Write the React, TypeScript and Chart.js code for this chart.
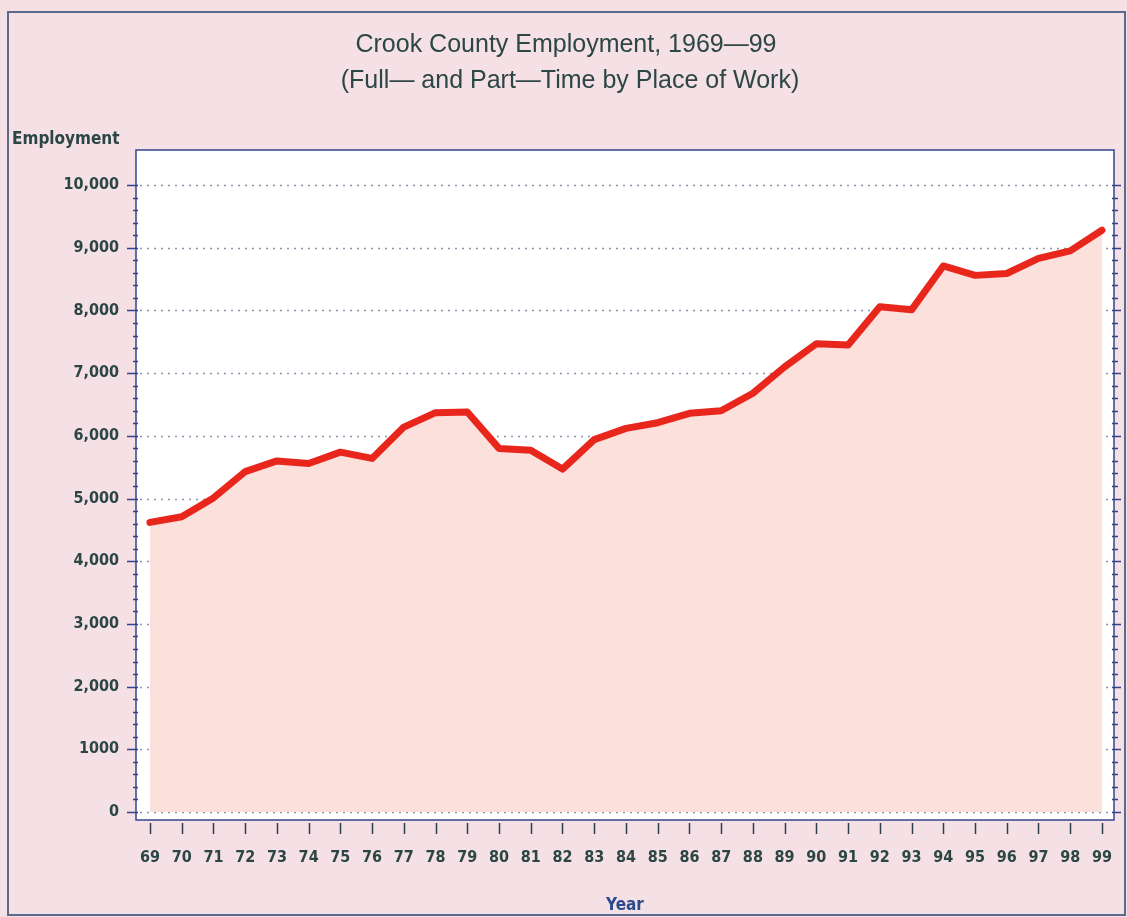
import React, { useEffect, useRef } from "react";
import { Chart, registerables } from "chart.js";

Chart.register(...registerables);

const titleLines = ["Crook County Employment, 1969\u201499", "(Full\u2014 and Part\u2014Time by Place of Work)"];
const yAxisTitle = "Employment";
const xAxisTitle = "Year";

const years = [
  1969, 1970, 1971, 1972, 1973, 1974, 1975, 1976, 1977, 1978, 1979,
  1980, 1981, 1982, 1983, 1984, 1985, 1986, 1987, 1988, 1989,
  1990, 1991, 1992, 1993, 1994, 1995, 1996, 1997, 1998, 1999,
];
const employment = [
  4620, 4710, 5010, 5430, 5600, 5560, 5740, 5640, 6140, 6370, 6380,
  5800, 5770, 5470, 5940, 6120, 6210, 6360, 6400, 6680, 7100,
  7470, 7450, 8060, 8010, 8710, 8560, 8590, 8830, 8950, 9280,
];
const yTickValues = [0, 1000, 2000, 3000, 4000, 5000, 6000, 7000, 8000, 9000, 10000];
const yTickLabels = ["0", "1000", "2,000", "3,000", "4,000", "5,000", "6,000", "7,000", "8,000", "9,000", "10,000"];
const yMinorStep = 200;

const TICK_FONT = "'Liberation Sans Narrow', 'DejaVu Sans Condensed', 'Arial Narrow', sans-serif";
const TEXT_COLOR = "#2c4646";
const AXIS_COLOR = "#34448c";

const decorPlugin = {
  id: "decor",
  beforeDraw(chart: any) {
    const { ctx, chartArea: a, width, height } = chart;
    ctx.save();
    ctx.fillStyle = "#f4e0e5";
    ctx.fillRect(0, 0, width, height);
    ctx.fillStyle = "#ffffff";
    ctx.fillRect(a.left, a.top, a.right - a.left, a.bottom - a.top);
    ctx.strokeStyle = "#5b6a8c";
    ctx.lineWidth = 2;
    ctx.strokeRect(8, 12, width - 10, height - 14);
    ctx.restore();
  },
  beforeDatasetsDraw(chart: any) {
    const { ctx, chartArea: a } = chart;
    const ys = chart.scales.y;
    ctx.save();
    ctx.strokeStyle = "#8e93ad";
    ctx.lineWidth = 1.5;
    ctx.setLineDash([2, 5]);
    yTickValues.forEach((v) => {
      const py = Math.round(ys.getPixelForValue(v)) + 0.5;
      ctx.beginPath();
      ctx.moveTo(a.left + 4, py);
      ctx.lineTo(a.right - 4, py);
      ctx.stroke();
    });
    ctx.restore();
  },
  afterDraw(chart: any) {
    const { ctx, chartArea: a } = chart;
    const ys = chart.scales.y;
    const xs = chart.scales.x;
    ctx.save();
    ctx.strokeStyle = AXIS_COLOR;
    ctx.lineWidth = 1.5;
    ctx.strokeRect(a.left, a.top, a.right - a.left, a.bottom - a.top);
    for (let v = 0; v <= yTickValues[yTickValues.length - 1]; v += yMinorStep) {
      const major = v % 1000 === 0;
      const py = Math.round(ys.getPixelForValue(v)) + 0.5;
      ctx.beginPath();
      ctx.moveTo(a.left - (major ? 9 : 3), py);
      ctx.lineTo(a.left + 2, py);
      ctx.moveTo(a.right - 2, py);
      ctx.lineTo(a.right + (major ? 7 : 4), py);
      ctx.stroke();
    }
    ctx.strokeStyle = "#2c3e48";
    years.forEach((yr) => {
      const px = Math.round(xs.getPixelForValue(yr)) + 0.5;
      ctx.beginPath();
      ctx.moveTo(px, a.bottom + 3);
      ctx.lineTo(px, a.bottom + 14);
      ctx.stroke();
    });
    ctx.fillStyle = TEXT_COLOR;
    ctx.textAlign = "center";
    ctx.textBaseline = "middle";
    ctx.font = "25px 'Liberation Sans', Arial, sans-serif";
    ctx.fillText(titleLines[0], 566, 45);
    ctx.fillText(titleLines[1], 570, 81);
    ctx.textAlign = "left";
    ctx.font = "bold 17px " + TICK_FONT;
    ctx.fillText(yAxisTitle, 12, 140);
    ctx.textAlign = "center";
    ctx.fillStyle = "#2b4a8e";
    ctx.fillText(xAxisTitle, (a.left + a.right) / 2, 906);
    ctx.restore();
  },
};

export default function App() {
  const ref = useRef<HTMLCanvasElement | null>(null);
  useEffect(() => {
    if (!ref.current) return;
    const chart = new Chart(ref.current, {
      type: "line",
      data: {
        datasets: [
          {
            data: years.map((yr, i) => ({ x: yr, y: employment[i] })),
            borderColor: "#e8261c",
            borderWidth: 7,
            backgroundColor: "#fbe0dc",
            fill: "origin",
            pointRadius: 0,
            tension: 0,
            borderJoinStyle: "round",
            borderCapStyle: "round",
          },
        ],
      },
      options: {
        animation: false,
        responsive: false,
        devicePixelRatio: 1,
        layout: { padding: { left: 0, top: 150, right: 13, bottom: 37 } },
        plugins: { legend: { display: false }, title: { display: false }, tooltip: { enabled: false } },
        scales: {
          x: {
            type: "linear",
            min: 1968.56,
            max: 1999.38,
            afterBuildTicks: (s: any) => {
              s.ticks = years.map((v) => ({ value: v }));
            },
            afterFit: (s: any) => {
              s.height = 60;
              s.paddingLeft = 0;
              s.paddingRight = 0;
            },
            grid: { display: false, drawTicks: false },
            border: { display: false },
            ticks: {
              autoSkip: false,
              maxRotation: 0,
              padding: 28,
              color: TEXT_COLOR,
              font: { family: TICK_FONT, size: 16, weight: "bold" },
              callback: (v: any) => String(v).slice(2),
            },
          },
          y: {
            type: "linear",
            min: -128,
            max: 10560,
            afterBuildTicks: (s: any) => {
              s.ticks = yTickValues.map((v) => ({ value: v }));
            },
            afterFit: (s: any) => {
              s.width = 136;
              s.paddingTop = 0;
              s.paddingBottom = 0;
            },
            grid: { display: false, drawTicks: false },
            border: { display: false },
            ticks: {
              padding: 17,
              color: TEXT_COLOR,
              font: { family: TICK_FONT, size: 16, weight: "bold" },
              callback: (v: any) => yTickLabels[yTickValues.indexOf(Number(v))] ?? "",
            },
          },
        },
      },
      plugins: [decorPlugin],
    } as any);
    return () => chart.destroy();
  }, []);
  return (
    <div style={{ position: "absolute", left: 0, top: 0, width: 1127, height: 917 }}>
      <canvas ref={ref} width={1127} height={917} />
    </div>
  );
}
